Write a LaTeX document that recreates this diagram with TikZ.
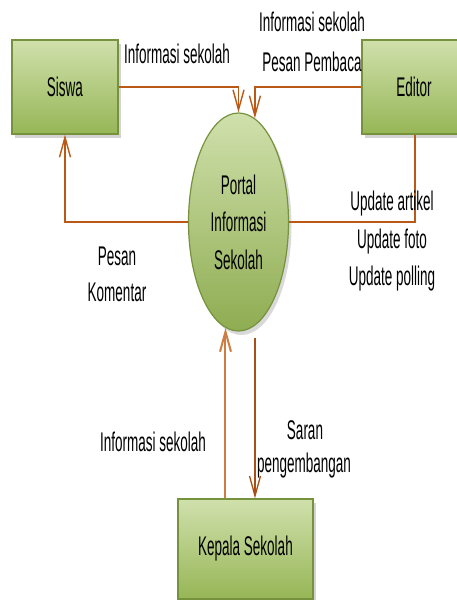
\documentclass[tikz,border=0pt]{standalone}
\usepackage{fontspec}
\setmainfont[FakeStretch=0.5]{Liberation Sans}
\usetikzlibrary{shapes.geometric,arrows.meta,shadows}
\definecolor{boxtop}{RGB}{208,224,172}
\definecolor{boxbot}{RGB}{150,182,86}
\definecolor{boxline}{RGB}{118,146,60}
\definecolor{flow}{RGB}{186,88,22}
\definecolor{flowlight}{RGB}{205,125,65}
\tikzset{
  entity/.style={draw=boxline, line width=1.2pt, top color=boxtop, bottom color=boxbot,
    minimum width=#1, inner sep=0pt, font=\fontsize{27}{37}\selectfont,
    drop shadow={opacity=0.35, shadow xshift=3pt, shadow yshift=-4pt}},
  process/.style={ellipse, draw=boxline, line width=1.2pt, top color=boxtop, bottom color=boxbot!95!black,
    minimum width=100pt, minimum height=218pt, inner sep=0pt, align=center,
    font=\fontsize{27}{37.5}\selectfont,
    drop shadow={opacity=0.3, shadow xshift=3pt, shadow yshift=-4pt}},
  lbl/.style={font=\fontsize{27}{37}\selectfont, align=center, inner sep=0pt},
  flowline/.style={draw=flow, line width=1.4pt},
  flowarrow/.style={flowline, -{Straight Barb[length=20pt,width=11pt]}}
}
\begin{document}
\begin{tikzpicture}[x=1pt,y=1pt]
\useasboundingbox (0,0) rectangle (457,-600);
% entities
\node[entity=106pt, minimum height=94pt] (siswa) at (65,-87) {Siswa};
\node[entity=96pt, minimum height=94pt] (editor) at (410,-87) {\hspace*{8pt}Editor};
\node[entity=135pt, minimum height=100pt] (kepala) at (245.5,-549) {Kepala Sekolah};
\node[process] (portal) at (238.5,-222) {Portal\\Informasi\\Sekolah};
% connectors
\draw[flowarrow] (siswa.east) -| (portal.north);
\draw[flowarrow] (editor.west) -| (portal.81);
\draw[flowarrow] (portal.west) -| (siswa.south);
\draw[flowline] (portal.east) -| ([xshift=5pt]editor.south);
\draw[flowarrow, line width=2pt, draw=flowlight] (kepala.north -| portal.263) -- (portal.263);
\coordinate (dstart) at (255,-338);
\draw[flowarrow, line width=1.3pt, draw=flow!90!black] (dstart) -- (dstart |- kepala.north);
% labels
\node[lbl] (l1) at (177,-54) {Informasi sekolah};
\node[lbl] (l2) at (312,-22) {Informasi sekolah};
\node[lbl] (l3) at (312,-62) {Pesan Pembaca};
\node[lbl] (l4) at (392,-204) {Update artikel};
\node[lbl] (l5) at (392,-242) {Update foto};
\node[lbl] (l6) at (392,-279) {Update polling};
\node[lbl] (l7) at (117,-256) {Pesan};
\node[lbl] (l8) at (117,-292) {Komentar};
\node[lbl] (l9) at (153,-442) {Informasi sekolah};
\node[lbl] (l10) at (305,-430) {Saran};
\node[lbl] (l11) at (304,-466) {pengembangan};
\end{tikzpicture}
\end{document}
